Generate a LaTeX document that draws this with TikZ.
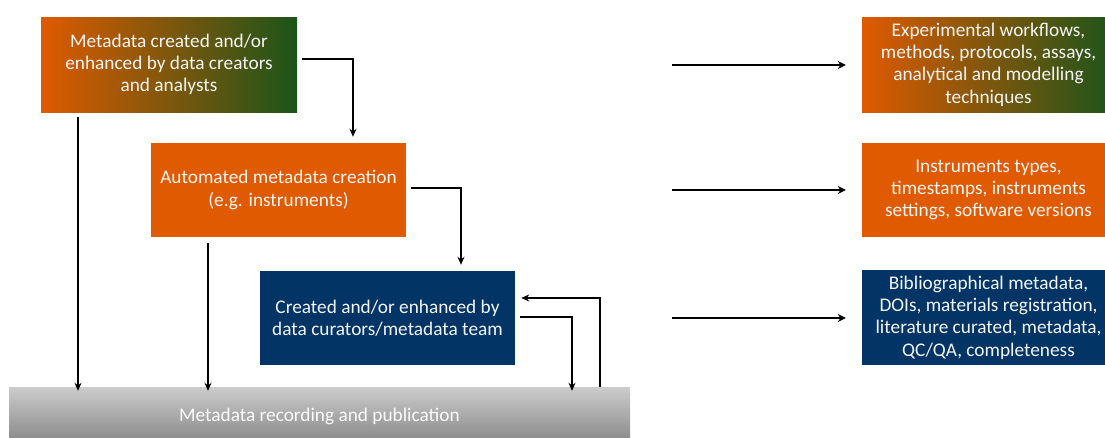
\documentclass[tikz,border=0pt]{standalone}
\usepackage{fontspec}
\setmainfont{Carlito}
\usetikzlibrary{arrows.meta,calc}
\definecolor{orng}{RGB}{223,90,0}
\definecolor{grn}{RGB}{28,84,26}
\definecolor{navy}{RGB}{2,52,102}
\definecolor{txtw}{RGB}{245,245,245}
\tikzset{
  box/.style={rectangle, inner sep=0pt, text=txtw, align=center,
    font=\fontsize{19.3}{22.3}\selectfont},
  gradbox/.style={box, left color=orng, right color=grn},
  orbox/.style={box, fill=orng},
  navbox/.style={box, fill=navy},
  conn/.style={draw=black, line width=1.6pt, -{Stealth[length=8pt,width=7pt]}},
  bigarrow/.style={draw=black, line width=2.8pt, -{Stealth[length=8pt,width=8pt]}},
}
\begin{document}
\begin{tikzpicture}[x=1pt,y=-1pt]
\useasboundingbox (0,0) rectangle (1105,437);
% left column
\node[gradbox, minimum width=256, minimum height=95] (b1) at (169,64.5)
  {Metadata created and/or\\enhanced by data creators\\and analysts};
\node[orbox, minimum width=255, minimum height=94] (b2) at (278.5,190)
  {Automated metadata creation\\(e.g. instruments)};
\node[navbox, minimum width=255, minimum height=94] (b3) at (387.5,318)
  {Created and/or enhanced by\\data curators/metadata team};
\node[box, top color=gray!40, bottom color=gray!88, minimum width=621, minimum height=50,
  text=white!97!gray] (bar) at (319.5,412) {\raisebox{-4pt}[\height][\depth]{Metadata recording and publication}};
% right column
\node[gradbox, minimum width=253, minimum height=95] (r1) at (988.5,64.5)
  {Experimental workflows,\\methods, protocols, assays,\\analytical and modelling\\techniques};
\node[orbox, minimum width=253, minimum height=94] (r2) at (988.5,190)
  {Instruments types,\\timestamps, instruments\\settings, software versions};
\node[navbox, minimum width=253, minimum height=95] (r3) at (988.5,317.5)
  {Bibliographical metadata,\\DOIs, materials registration,\\literature curated, metadata,\\QC/QA, completeness};
% helper coordinates
\coordinate (barTop) at ([yshift=-4]bar.north);
\coordinate (p1) at ([shift={(-91,5)}]b1.south);
\coordinate (p2) at ([shift={(-70.5,6)}]b2.south);
\coordinate (c5) at (572,0);
\coordinate (p6) at ([xshift=280.5]bar.north);
\coordinate (s1) at (672,65);
\coordinate (s2) at (672,190);
\coordinate (s3) at (672,318);
\coordinate (e1) at ($(s1 -| r1.west)+(-16,0)$);
\coordinate (e2) at ($(s2 -| r2.west)+(-16,0)$);
\coordinate (e3) at ($(s3 -| r3.west)+(-16,0)$);
% connectors
\draw[conn] ([shift={(5,-5.5)}]b1.east) -| ([shift={(74.5,-6)}]b2.north);
\draw[conn] (p1) -- (p1 |- barTop);
\draw[conn] ([shift={(5,-2)}]b2.east) -| ([shift={(73.5,-6)}]b3.north);
\draw[conn] (p2) -- (p2 |- barTop);
\draw[conn] ([shift={(5,-1)}]b3.east) -| (c5 |- barTop);
\draw[conn] (p6) |- ([shift={(6,-20)}]b3.east);
% right arrows
\draw[bigarrow] (s1) -- (e1);
\draw[bigarrow] (s2) -- (e2);
\draw[bigarrow] (s3) -- (e3);
\end{tikzpicture}
\end{document}
